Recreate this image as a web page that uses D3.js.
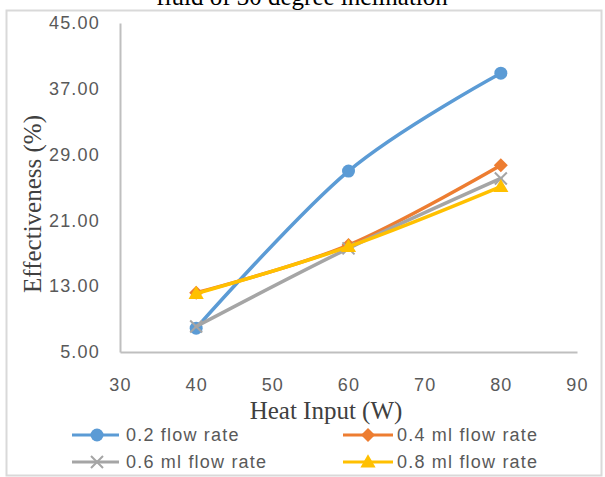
<!DOCTYPE html>
<html>
<head>
<meta charset="utf-8">
<script src="https://cdn.jsdelivr.net/npm/d3@7"></script>
<style>
  html, body { margin: 0; padding: 0; background: #fff; }
  svg { display: block; }
</style>
</head>
<body>
<svg id="chart" width="605" height="477"></svg>
<script>
// ---- data ----
const heatInput = [40, 60, 80];
const flow02 = [7.9, 27.0, 38.9];
const flow04 = [12.2, 18.0, 27.7];
const flow06 = [8.1, 17.6, 26.1];
const flow08 = [12.1, 17.8, 25.1];
const seriesNames = ["0.2 flow rate", "0.4 ml flow rate", "0.6 ml flow rate", "0.8 ml flow rate"];
const xTicks = [30, 40, 50, 60, 70, 80, 90];
const yTicks = [5, 13, 21, 29, 37, 45];
const titleText = "fluid of 30 degree inclination";
const xTitle = "Heat Input (W)";
const yTitle = "Effectiveness (%)";

const colors = ["#5B9BD5", "#ED7D31", "#A5A5A5", "#FFC000"];
const markers = ["circle", "diamond", "x", "triangle"];
const allSeries = [flow02, flow04, flow06, flow08];

const svg = d3.select("#chart");

// chart border
svg.append("rect").attr("x", 6.5).attr("y", 10.5).attr("width", 595).attr("height", 465)
  .attr("fill", "#fff").attr("stroke", "#D9D9D9").attr("stroke-width", 2);

// title (cut off at top, as in the reference)
svg.append("text").attr("x", 302).attr("y", 5)
  .attr("text-anchor", "middle")
  .style("font-family", "'Liberation Serif', 'Times New Roman', serif")
  .style("font-size", "25px").attr("fill", "#000")
  .text(titleText);

const x = d3.scaleLinear().domain([30, 90]).range([120, 577]);
const y = d3.scaleLinear().domain([5, 45]).range([352, 23]);

const tickFont = "'Liberation Sans', Arial, sans-serif";

// y axis
const yAxis = d3.axisLeft(y).tickValues(yTicks).tickSize(0).tickPadding(20)
  .tickFormat(d3.format(".2f"));
const gy = svg.append("g").attr("transform", "translate(120,0)").call(yAxis);
gy.select(".domain").attr("stroke", "#BFBFBF").attr("stroke-width", 2);
gy.selectAll("text").attr("fill", "#595959")
  .style("font-family", tickFont).style("font-size", "18px").style("letter-spacing", "1.2px");

// x axis
const xAxis = d3.axisBottom(x).tickValues(xTicks).tickSize(0).tickPadding(26);
const gx = svg.append("g").attr("transform", "translate(0,352)").call(xAxis);
gx.select(".domain").attr("stroke", "#BFBFBF").attr("stroke-width", 2);
gx.selectAll("text").attr("fill", "#595959")
  .style("font-family", tickFont).style("font-size", "18px").style("letter-spacing", "1.2px");

// axis titles
svg.append("text").attr("x", 326).attr("y", 419).attr("text-anchor", "middle")
  .style("font-family", "'Liberation Serif', 'Times New Roman', serif")
  .style("font-size", "25px").attr("fill", "#404040").text(xTitle);
svg.append("text").attr("transform", "translate(41,204) rotate(-90)").attr("text-anchor", "middle")
  .style("font-family", "'Liberation Serif', 'Times New Roman', serif")
  .style("font-size", "25px").attr("fill", "#404040").text(yTitle);

// marker drawing
function drawMarker(g, type, cx, cy, color) {
  if (type === "circle") {
    g.append("circle").attr("cx", cx).attr("cy", cy).attr("r", 6.5).attr("fill", color);
  } else if (type === "diamond") {
    const s = 7;
    g.append("path").attr("d", `M${cx},${cy - s}L${cx + s},${cy}L${cx},${cy + s}L${cx - s},${cy}Z`)
      .attr("fill", color);
  } else if (type === "x") {
    const s = 6;
    g.append("path").attr("d", `M${cx - s},${cy - s}L${cx + s},${cy + s}M${cx - s},${cy + s}L${cx + s},${cy - s}`)
      .attr("stroke", color).attr("stroke-width", 2).attr("fill", "none");
  } else if (type === "triangle") {
    g.append("path").attr("d", d3.symbol(d3.symbolTriangle, 100)())
      .attr("transform", `translate(${cx},${cy + 1})`).attr("fill", color);
  }
}

const line = d3.line().x(d => x(d[0])).y(d => y(d[1])).curve(d3.curveCatmullRom.alpha(0));

allSeries.forEach((vals, i) => {
  const pts = heatInput.map((h, j) => [h, vals[j]]);
  const g = svg.append("g");
  g.append("path").attr("d", line(pts)).attr("fill", "none")
    .attr("stroke", colors[i]).attr("stroke-width", 3.5).attr("stroke-linecap", "round");
  pts.forEach(p => drawMarker(g, markers[i], x(p[0]), y(p[1]), colors[i]));
});

// legend
const legendPos = [
  { lx: 72, rx: 119, mx: 97, tx: 126, ty: 435 },
  { lx: 343, rx: 393, mx: 368, tx: 397, ty: 435 },
  { lx: 72, rx: 119, mx: 97, tx: 126, ty: 462 },
  { lx: 343, rx: 393, mx: 368, tx: 397, ty: 462 }
];
seriesNames.forEach((name, i) => {
  const p = legendPos[i];
  const g = svg.append("g");
  g.append("line").attr("x1", p.lx).attr("x2", p.rx).attr("y1", p.ty).attr("y2", p.ty)
    .attr("stroke", colors[i]).attr("stroke-width", 3);
  drawMarker(g, markers[i], p.mx, p.ty, colors[i]);
  g.append("text").attr("x", p.tx).attr("y", p.ty).attr("dy", "0.35em")
    .attr("fill", "#595959").style("font-family", tickFont).style("font-size", "18px")
    .style("letter-spacing", "1.2px").text(name);
});
</script>
</body>
</html>
